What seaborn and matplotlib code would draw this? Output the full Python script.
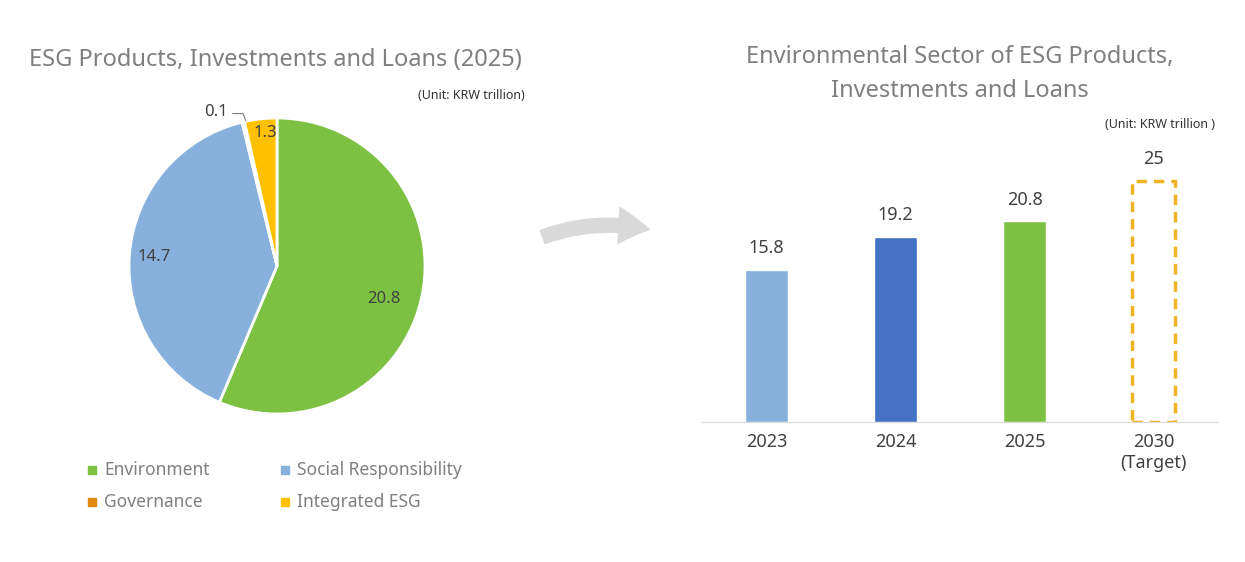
import matplotlib
matplotlib.use("Agg")
import matplotlib.pyplot as plt
import seaborn as sns
import pandas as pd
from matplotlib.patches import FancyArrowPatch

sns.set_style("white")
plt.rcParams['font.family'] = ['Noto Sans', 'DejaVu Sans']

# datos del pastel (2025)
pie_labels = ["Environment", "Social Responsibility", "Governance", "Integrated ESG"]
pie_values = [20.8, 14.7, 0.1, 1.3]
pie_colors = ["#7DC142", "#87B1DC", "#E08A12", "#FFC000"]

# datos de barras
years = ["2023", "2024", "2025", "2030\n(Target)"]
env_values = [15.8, 19.2, 20.8, 25]
bar_colors = ["#87B1DC", "#4472C4", "#7DC142", "#FFC000"]

gray = "#7F7F7F"
dark = "#404040"

fig = plt.figure(figsize=(12.45, 5.62), dpi=100)
W, H = 1245, 562

# ---- pastel ----
r = 148
axp = fig.add_axes([(277 - r) / W, 1 - (266 + r) / H, 2 * r / W, 2 * r / H])
wedges, _ = axp.pie(pie_values, colors=pie_colors, startangle=90, counterclock=False,
                    wedgeprops=dict(edgecolor="white", linewidth=2))
axp.set_xlim(-1, 1)
axp.set_ylim(-1, 1)
axp.set_aspect("equal")
axp.set_clip_on(False)
for w in wedges:
    w.set_clip_on(False)
axp.text(0.72, -0.22, "20.8", fontsize=12, color=dark, ha="center", va="center")
axp.text(-0.83, 0.06, "14.7", fontsize=12, color=dark, ha="center", va="center")
axp.text(-0.08, 0.9, "1.3", fontsize=12, color=dark, ha="center", va="center")
axp.text(-0.41, 1.04, "0.1", fontsize=12, color=dark, ha="center", va="center", clip_on=False)
axp.plot([-0.3, -0.23, -0.21], [1.03, 1.03, 0.98], color=gray, lw=0.8, clip_on=False)

fig.text(275 / W, 1 - 60 / H, "ESG Products, Investments and Loans (2025)", fontsize=17,
         color=gray, ha="center", va="center")
fig.text(525 / W, 1 - 95 / H, "(Unit: KRW trillion)", fontsize=9, color="#333333",
         ha="right", va="center")

# leyenda
pos = [(92, 470), (285, 470), (92, 502), (285, 502)]
for (x, y), lab, c in zip(pos, pie_labels, pie_colors):
    fig.patches.append(plt.Rectangle(((x - 4) / W, 1 - (y + 4) / H), 8 / W, 8 / H,
                                     color=c, transform=fig.transFigure))
    fig.text((x + 12) / W, 1 - y / H, lab, fontsize=12.5, color=gray, va="center")

# ---- flecha ----
arrow = FancyArrowPatch((540 / W, 1 - 238 / H), (652 / W, 1 - 230 / H),
                        transform=fig.transFigure, connectionstyle="arc3,rad=-0.15",
                        arrowstyle="simple,head_width=26,head_length=22,tail_width=10",
                        color="#D9D9D9")
fig.patches.append(arrow)

# ---- barras ----
x0, x1 = 702, 1218
axb = fig.add_axes([x0 / W, 140 / H, (x1 - x0) / W, 270 / H])
df = pd.DataFrame({"year": years, "value": env_values})
sns.barplot(data=df, x="year", y="value", hue="year", palette=bar_colors,
            legend=False, width=0.33, saturation=1, ax=axb)
last = axb.patches[3]
last.set_facecolor("none")
last.set_edgecolor("#F0B323")
last.set_linestyle((0, (3, 2)))
last.set_linewidth(2.5)
for i, v in enumerate(env_values):
    axb.text(i, v + 1.3, f"{v:g}", ha="center", va="bottom", fontsize=13, color=dark)
axb.set_ylim(0, 28)
axb.set_xlim(-0.5, 3.5)
axb.set_xlabel("")
axb.set_ylabel("")
axb.set_yticks([])
for s in ["top", "left", "right"]:
    axb.spines[s].set_visible(False)
axb.spines["bottom"].set_color("#D9D9D9")
axb.tick_params(axis="x", length=0, labelsize=13, labelcolor=dark, pad=8)

fig.text(960 / W, 1 - 74 / H, "Environmental Sector of ESG Products,\nInvestments and Loans",
         fontsize=17, color=gray, ha="center", va="center", linespacing=1.6)
fig.text(1215 / W, 1 - 125 / H, "(Unit: KRW trillion )", fontsize=9, color="#333333",
         ha="right", va="center")

fig.savefig("out.png", dpi=100)
